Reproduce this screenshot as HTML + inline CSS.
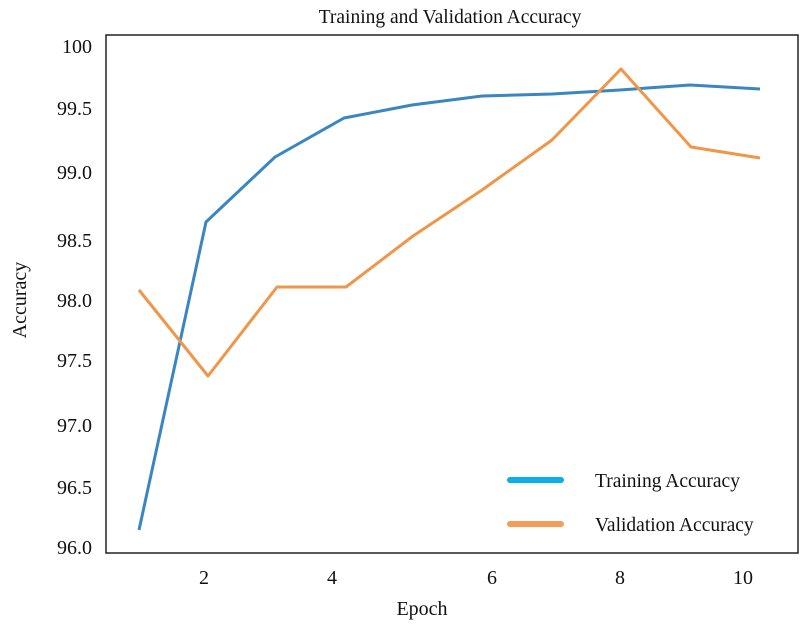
<!DOCTYPE html>
<html><head><meta charset="utf-8"><style>
html,body{margin:0;padding:0;background:#fff;}
svg text{font-family:"Liberation Serif",serif;fill:#111;}
</style></head><body>
<svg width="800" height="630" xmlns="http://www.w3.org/2000/svg">
<rect width="800" height="630" fill="#fff"/>
<text x="450" y="23" font-size="19.5" text-anchor="middle">Training and Validation Accuracy</text>
<rect x="106" y="35" width="692" height="518" fill="none" stroke="#222" stroke-width="1.5"/>
<g font-size="20" text-anchor="end">
<text x="92" y="53">100</text>
<text x="92" y="115">99.5</text>
<text x="92" y="179">99.0</text>
<text x="92" y="247">98.5</text>
<text x="92" y="307">98.0</text>
<text x="92" y="367">97.5</text>
<text x="92" y="432">97.0</text>
<text x="92" y="494">96.5</text>
<text x="92" y="554">96.0</text>
</g>
<g font-size="20" text-anchor="middle">
<text x="204" y="584">2</text>
<text x="332" y="584">4</text>
<text x="492" y="584">6</text>
<text x="620" y="584">8</text>
<text x="743" y="584">10</text>
</g>
<text x="422" y="615" font-size="20" text-anchor="middle">Epoch</text>
<text x="0" y="0" font-size="20" text-anchor="middle" transform="translate(26,300) rotate(-90)">Accuracy</text>
<polyline fill="none" stroke="#3a86c3" stroke-width="3" stroke-linejoin="round" points="139,530 206,222 275,157 344,118 412,105 482,96 552,94 620,90 690,85 760,89"/>
<polyline fill="none" stroke="#f0964a" stroke-width="3" stroke-linejoin="round" points="139,290 208,376 277,287 346,287 413,236 482,190 552,140 621,69 691,147 760,158"/>
<line x1="510" y1="480" x2="561" y2="480" stroke="#0badeb" stroke-width="6" stroke-linecap="round"/>
<line x1="510" y1="524" x2="561" y2="524" stroke="#f49c58" stroke-width="6" stroke-linecap="round"/>
<text x="595" y="487" font-size="19.5">Training Accuracy</text>
<text x="595" y="531" font-size="19.5">Validation Accuracy</text>
</svg>
</body></html>
